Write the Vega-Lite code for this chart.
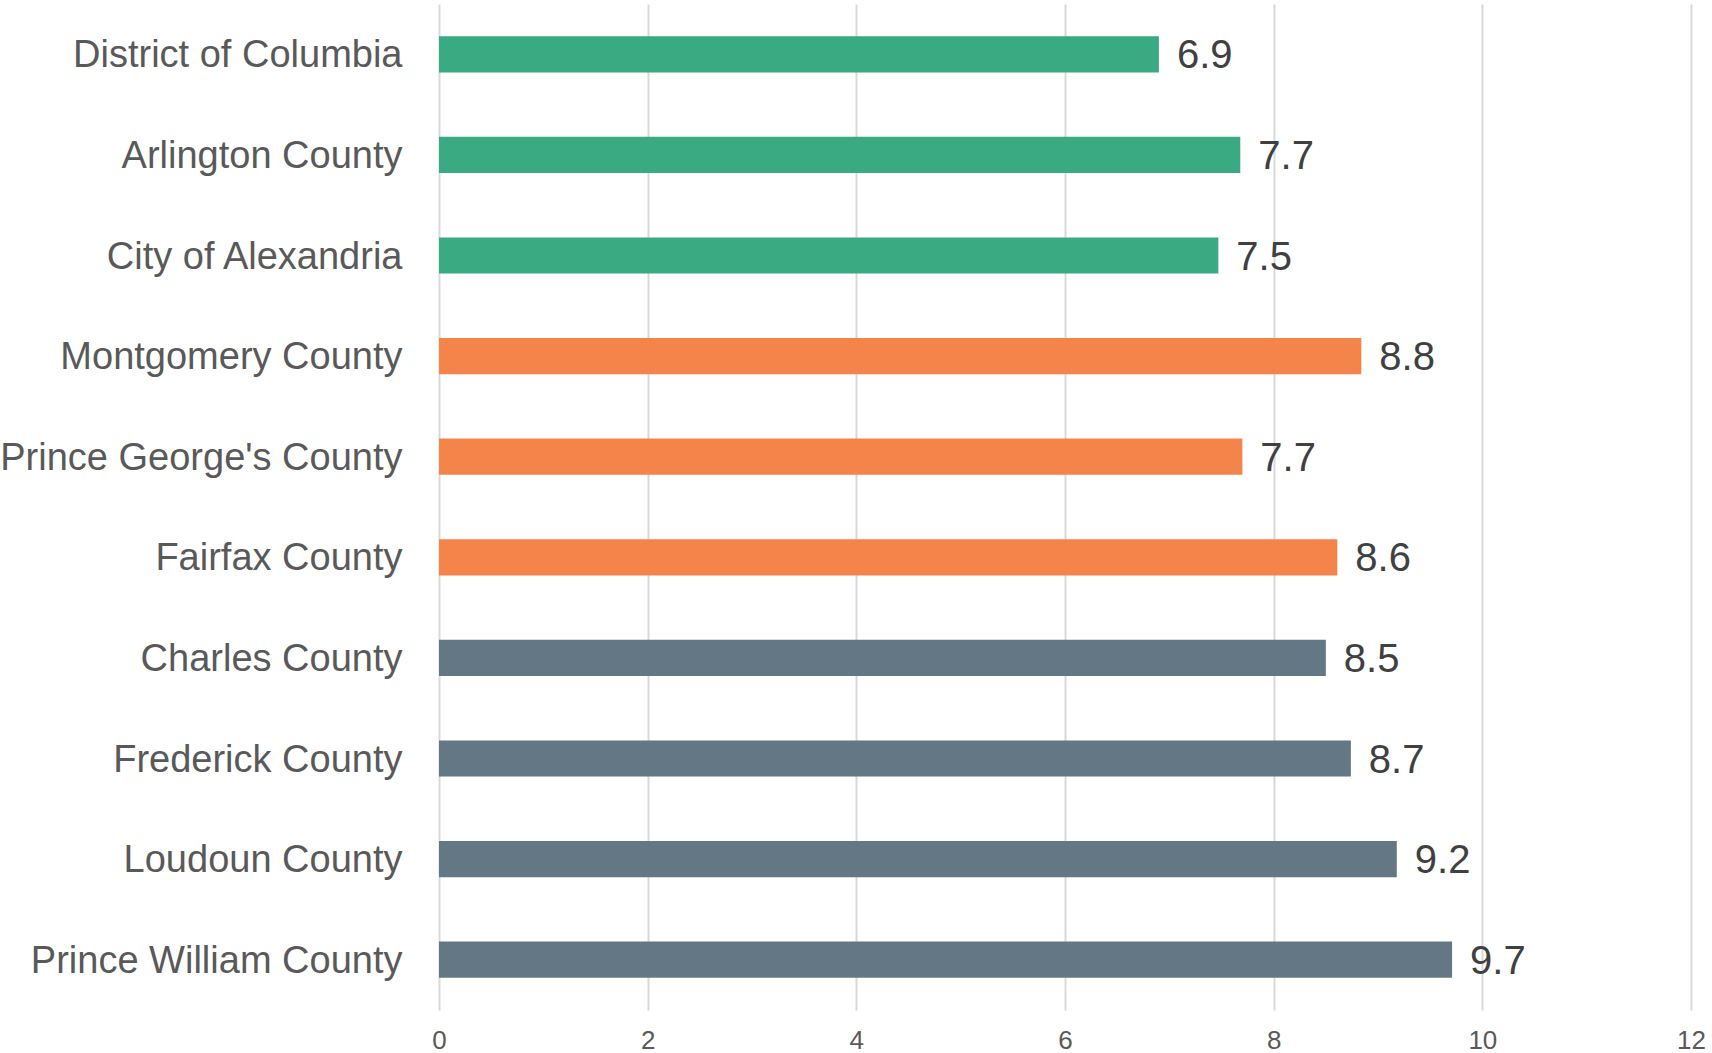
{
  "$schema": "https://vega.github.io/schema/vega-lite/v6.json",
  "width": 1252,
  "height": 1006,
  "autosize": {"type": "none"},
  "padding": {"left": 439, "top": 4, "right": 21, "bottom": 43},
  "background": "white",
  "config": {"view": {"stroke": null}},
  "data": {
    "values": [
      {"area": "District of Columbia", "value": 6.9, "label": "6.9", "group": "Core"},
      {"area": "Arlington County", "value": 7.68, "label": "7.7", "group": "Core"},
      {"area": "City of Alexandria", "value": 7.47, "label": "7.5", "group": "Core"},
      {"area": "Montgomery County", "value": 8.84, "label": "8.8", "group": "Inner"},
      {"area": "Prince George's County", "value": 7.7, "label": "7.7", "group": "Inner"},
      {"area": "Fairfax County", "value": 8.61, "label": "8.6", "group": "Inner"},
      {"area": "Charles County", "value": 8.5, "label": "8.5", "group": "Outer"},
      {"area": "Frederick County", "value": 8.74, "label": "8.7", "group": "Outer"},
      {"area": "Loudoun County", "value": 9.18, "label": "9.2", "group": "Outer"},
      {"area": "Prince William County", "value": 9.71, "label": "9.7", "group": "Outer"}
    ]
  },
  "encoding": {
    "y": {
      "field": "area",
      "type": "nominal",
      "sort": null,
      "scale": {"paddingInner": 0.64, "paddingOuter": 0.32},
      "axis": {
        "title": null,
        "ticks": false,
        "domain": false,
        "labelFont": "Liberation Sans",
        "labelFontSize": 38,
        "labelColor": "#595959",
        "labelPadding": 37,
        "labelOffset": 2,
        "labelLimit": 600
      }
    },
    "x": {
      "field": "value",
      "type": "quantitative",
      "scale": {"domain": [0, 12], "nice": false},
      "axis": {
        "title": null,
        "values": [0, 2, 4, 6, 8, 10, 12],
        "grid": true,
        "gridColor": "#d9d9d9",
        "gridWidth": 2,
        "domain": false,
        "ticks": false,
        "labelFont": "Liberation Sans",
        "labelFontSize": 26,
        "labelColor": "#595959",
        "labelPadding": 17,
        "labelFlush": false
      }
    }
  },
  "layer": [
    {
      "mark": {"type": "bar"},
      "encoding": {
        "color": {
          "field": "group",
          "type": "nominal",
          "scale": {"domain": ["Core", "Inner", "Outer"], "range": ["#3aaa82", "#f5844a", "#637884"]},
          "legend": null
        }
      }
    },
    {
      "mark": {"type": "text", "align": "left", "baseline": "middle", "dx": 18, "dy": 2, "font": "Liberation Sans", "fontSize": 40, "color": "#404040"},
      "encoding": {"text": {"field": "label"}}
    }
  ]
}
